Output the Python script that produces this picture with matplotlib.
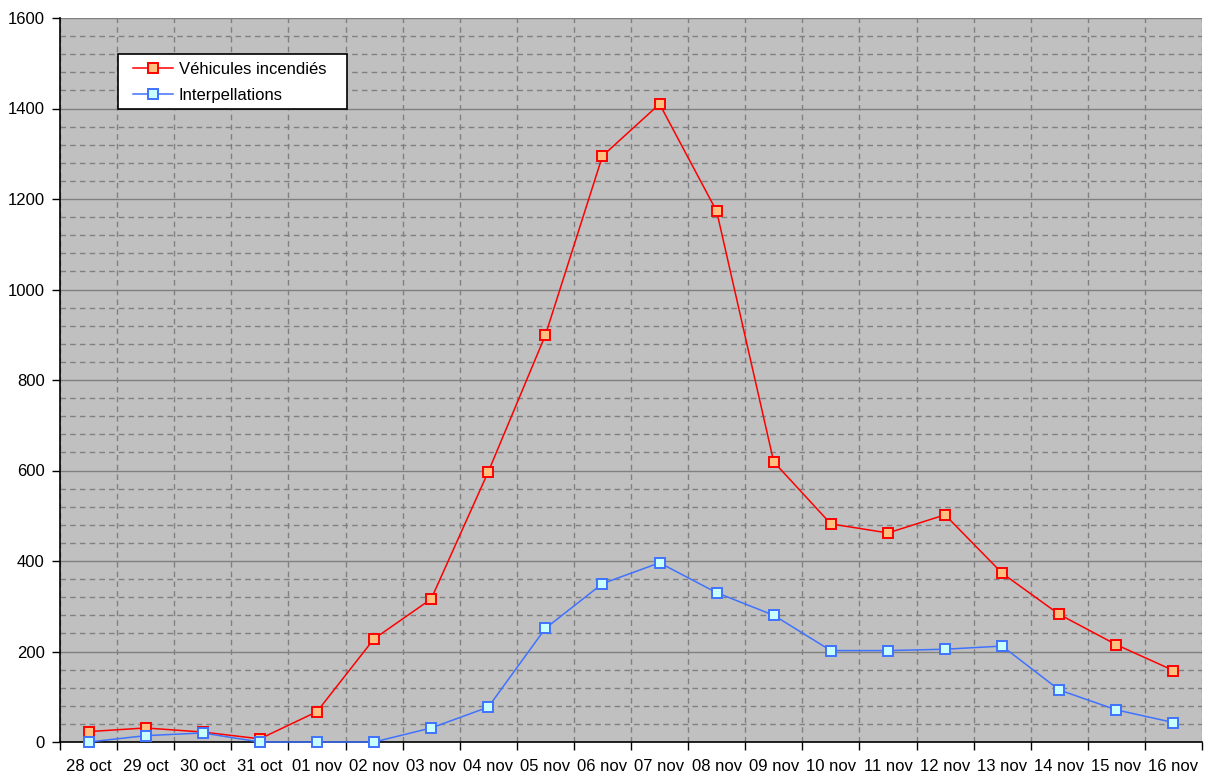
import matplotlib
matplotlib.use('Agg')
import matplotlib.pyplot as plt
from matplotlib.patches import Rectangle
import numpy as np

days = ['28 oct', '29 oct', '30 oct', '31 oct', '01 nov', '02 nov', '03 nov', '04 nov',
        '05 nov', '06 nov', '07 nov', '08 nov', '09 nov', '10 nov', '11 nov', '12 nov',
        '13 nov', '14 nov', '15 nov', '16 nov']
vehicules = [23, 31, 22, 7, 67, 228, 316, 597, 899, 1295, 1410, 1173, 619, 482, 462, 502,
             373, 282, 215, 158]
interpellations = [0, 14, 20, 0, 0, 0, 31, 77, 251, 350, 396, 330, 280, 202, 202, 205,
                   212, 115, 71, 43]

plt.rcParams['font.family'] = ['Liberation Sans', 'DejaVu Sans']

fig = plt.figure(figsize=(12.06, 7.74), dpi=100)
ax = fig.add_axes([60 / 1206, 32 / 774, 1142 / 1206, 724 / 774])
ax.set_facecolor('#C0C0C0')

x = np.arange(len(days))
ax.plot(x, vehicules, color='#FF0000', lw=1.1, marker='s', ms=7,
        mfc='#FFC080', mec='#FF0000', mew=1.4, label='Véhicules incendiés',
        zorder=3, clip_on=False)
ax.plot(x, interpellations, color='#3F72FF', lw=1.1, marker='s', ms=7,
        mfc='#C8FFFF', mec='#3F72FF', mew=1.4, label='Interpellations',
        zorder=4, clip_on=False)

ax.set_xlim(-0.5, len(days) - 0.5)
ax.set_ylim(0, 1600)

ax.set_yticks(np.arange(0, 1601, 200))
ax.set_yticks(np.arange(0, 1601, 40), minor=True)
ax.set_xticks(x)
ax.set_xticklabels(days)
ax.set_xticks(np.arange(-0.5, len(days)), minor=True)

ax.tick_params(axis='x', which='major', length=0, pad=12, labelsize=12)
ax.tick_params(axis='x', which='minor', length=6, width=1, color='black', direction='out')
ax.tick_params(axis='y', which='major', length=6, width=1, direction='out', pad=5, labelsize=12)
ax.tick_params(axis='y', which='minor', length=0)

ax.grid(axis='y', which='major', color='#808080', lw=1, ls='-', zorder=1)
ax.grid(axis='y', which='minor', color='#808080', lw=1, ls=(0, (4, 3)), zorder=1)
ax.grid(axis='x', which='minor', color='#808080', lw=1, ls=(0, (4, 3)), zorder=1)
ax.grid(axis='x', which='major', visible=False)
ax.set_axisbelow(True)

for side in ['top', 'right']:
    ax.spines[side].set_visible(False)
for side in ['left', 'bottom']:
    ax.spines[side].set_color('black')
    ax.spines[side].set_linewidth(1.2)

# legend box drawn by hand so the padding matches the Excel look
ax.add_patch(Rectangle((58 / 1142, 633 / 724), 229 / 1142, 55 / 724, transform=ax.transAxes,
                       facecolor='white', edgecolor='black', lw=1.2, zorder=5))
leg = ax.legend(loc='upper left', bbox_to_anchor=(73 / 1142, 680 / 724), borderaxespad=0,
                frameon=False, fontsize=12, borderpad=0, handlelength=2.4,
                labelspacing=0.65, handletextpad=0.35)
leg.set_zorder(6)

fig.savefig('out.png', dpi=100)
